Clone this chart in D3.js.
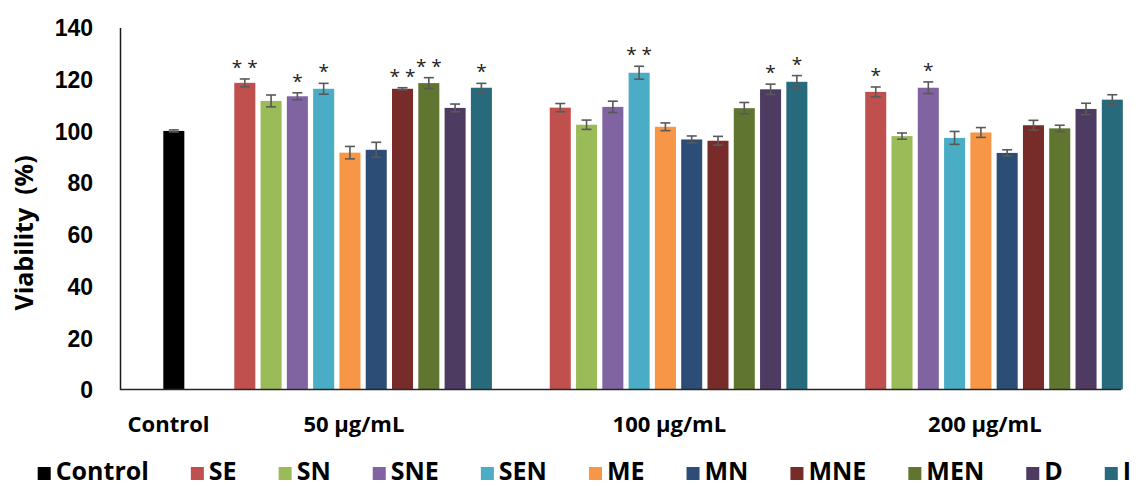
<!DOCTYPE html>
<html lang="en">
<head>
    <meta charset="UTF-8">
    <title>Viability</title>
    <script src="https://d3js.org/d3.v7.min.js"></script>
    <style>
        body { margin: 0; background: #fff; font-family: "Open Sans", Arial, sans-serif; }
        .axis text { font-size: 23px; font-weight: 700; fill: #000; }
        .cat { font-size: 22px; font-weight: 700; text-anchor: middle; }
        .legend text { font-size: 25px; font-weight: 700; }
        .star { font-size: 19px; text-anchor: middle; fill: #222; }
    </style>
</head>
<body>
    <div id="chart"></div>
    <script>
        // data
        const groups = ["50 µg/mL", "100 µg/mL", "200 µg/mL"];
        const series = ["SE", "SN", "SNE", "SEN", "ME", "MN", "MNE", "MEN", "D", "I"];
        const colors = ["#C0504D", "#9BBB59", "#8064A2", "#4BACC6", "#F79646",
                        "#2C4D75", "#772C2A", "#5F7530", "#4D3B62", "#276A7C"];

        const controlValue = 100;
        const controlErr = 0.4;

        const values50  = [118.6, 111.6, 113.4, 116.3, 91.6, 92.7, 116.3, 118.5, 108.9, 116.7];
        const values100 = [109.0, 102.4, 109.3, 122.5, 101.6, 96.7, 96.2, 108.8, 116.1, 119.0];
        const values200 = [115.1, 98.0, 116.7, 97.3, 99.4, 91.5, 102.2, 101.0, 108.5, 112.1];

        const err50  = [1.5, 2.3, 1.35, 2.1, 2.4, 2.9, 0.4, 2.1, 1.5, 1.7];
        const err100 = [1.6, 1.8, 2.2, 2.5, 1.5, 1.35, 1.7, 2.2, 2.0, 2.4];
        const err200 = [1.9, 1.2, 2.25, 2.5, 1.9, 1.2, 1.9, 1.2, 2.2, 1.9];

        const stars50  = ["**", "", "*", "*", "", "", "**", "**", "", "*"];
        const stars100 = ["", "", "", "**", "", "", "", "", "*", "*"];
        const stars200 = ["*", "", "*", "", "", "", "", "", "", ""];

        const yTicks = [0, 20, 40, 60, 80, 100, 120, 140];

        const width = 1143, height = 486;
        const plotLeft = 120, plotRight = 1121;

        const svg = d3.select("#chart").append("svg")
            .attr("width", width)
            .attr("height", height);

        const y = d3.scaleLinear().domain([0, 140]).range([389.5, 27.5]);

        // slot scale: one slot per bar, control at slot 0, groups every 12 slots
        const groupStart = 2.7, groupStride = 12, barFrac = 0.8;
        const x = d3.scaleLinear().domain([0, 36.7]).range([163.3, 1128.1]);
        const slotW = x(1) - x(0);
        const barW = slotW * barFrac;

        const rows = [];
        rows.push({ slot: 0, value: controlValue, err: controlErr, star: "", color: "#000" });
        const vals = [values50, values100, values200];
        const errs = [err50, err100, err200];
        const stars = [stars50, stars100, stars200];
        groups.forEach((g, gi) => {
            series.forEach((s, i) => {
                rows.push({
                    slot: groupStart + gi * groupStride + i,
                    value: vals[gi][i], err: errs[gi][i], star: stars[gi][i], color: colors[i]
                });
            });
        });

        // bars
        svg.append("g").selectAll("rect")
            .data(rows)
            .join("rect")
            .attr("x", d => x(d.slot))
            .attr("y", d => y(d.value))
            .attr("width", barW)
            .attr("height", d => y(0) - y(d.value))
            .attr("fill", d => d.color);

        // error bars
        const eb = svg.append("g")
            .attr("stroke", "#595959")
            .attr("stroke-width", 1.6)
            .attr("fill", "none");
        const capW = 10;
        rows.forEach(d => {
            const cx = x(d.slot) + barW / 2;
            const y1 = y(d.value + d.err), y2 = y(d.value - d.err);
            eb.append("line").attr("x1", cx).attr("x2", cx).attr("y1", y1).attr("y2", y2);
            eb.append("line").attr("x1", cx - capW / 2).attr("x2", cx + capW / 2).attr("y1", y1).attr("y2", y1);
            eb.append("line").attr("x1", cx - capW / 2).attr("x2", cx + capW / 2).attr("y1", y2).attr("y2", y2);
        });

        // significance stars
        svg.append("g").selectAll("text")
            .data(rows.filter(d => d.star))
            .join("text")
            .attr("class", "star")
            .attr("x", d => x(d.slot) + barW / 2)
            .attr("y", d => y(d.value + d.err) - 5)
            .text(d => d.star.split("").join(" "));

        // y axis
        const yAxis = svg.append("g")
            .attr("class", "axis")
            .attr("transform", `translate(${plotLeft},0)`)
            .call(d3.axisLeft(y).tickValues(yTicks).tickSize(0).tickPadding(27).tickFormat(d3.format("d")));
        yAxis.select(".domain").attr("stroke", "#1a1a1a").attr("stroke-width", 1.5);
        yAxis.selectAll("text").attr("dy", "0.36em");

        // x axis line
        svg.append("line")
            .attr("x1", plotLeft).attr("x2", plotRight)
            .attr("y1", y(0)).attr("y2", y(0))
            .attr("stroke", "#262626")
            .attr("stroke-width", 1.5);

        // category labels
        const catLabels = [{ text: "Control", slot: -0.2 }]
            .concat(groups.map((g, gi) => ({ text: g, slot: groupStart + gi * groupStride + 4.15 })));
        svg.append("g").selectAll("text")
            .data(catLabels)
            .join("text")
            .attr("class", "cat")
            .attr("x", d => x(d.slot) + barW / 2)
            .attr("y", 432)
            .text(d => d.text);

        // y title
        svg.append("text")
            .attr("transform", `translate(33,233) rotate(-90)`)
            .attr("text-anchor", "middle")
            .style("font-size", "25px")
            .style("font-weight", 700)
            .style("white-space", "pre")
            .text("Viability  (%)");

        // legend, flowed left to right
        const legend = svg.append("g").attr("class", "legend");
        const legendItems = [{ name: "Control", color: "#000" }]
            .concat(series.map((s, i) => ({ name: s, color: colors[i] })));
        let lx = 37.7;
        legendItems.forEach(item => {
            legend.append("rect")
                .attr("x", lx).attr("y", 467)
                .attr("width", 13).attr("height", 13)
                .attr("fill", item.color);
            const t = legend.append("text")
                .attr("x", lx + 18).attr("y", 480)
                .text(item.name);
            lx = lx + 18 + t.node().getComputedTextLength() + 42;
        });
    </script>
</body>
</html>
